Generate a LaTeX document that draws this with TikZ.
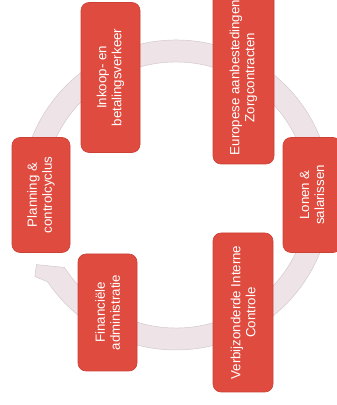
\documentclass[tikz,border=0pt]{standalone}
\usepackage{fontspec}
\setmainfont{Liberation Sans}
\usetikzlibrary{calc}
\definecolor{boxred}{HTML}{E04B40}
\definecolor{boxedge}{HTML}{CC4036}
\definecolor{ringfill}{HTML}{EEE4E8}
\definecolor{ringedge}{HTML}{D2C8CE}
\tikzset{
  stage/.style={draw=boxedge, line width=0.6pt, fill=boxred, rounded corners=8pt,
    text=white, rotate=90, align=center, inner sep=2pt,
    font=\fontsize{13.3}{15}\selectfont},
}
\begin{document}
\begin{tikzpicture}[x=1pt,y=1pt]
\useasboundingbox (0,0) rectangle (337,405);
\clip (0,0) rectangle (337,405);
\coordinate (c) at (176,210);
% ring arrow (clockwise)
\fill[ringfill, draw=ringedge, line width=0.5pt]
  ($(c)+(190:155)$) arc[start angle=190, end angle=-146, radius=155]
  -- ($(c)+(-150:163)$) -- ($(c)+(-153.5:156)$) -- ($(c)+(-147:133)$)
  arc[start angle=-147, end angle=190, radius=133] -- cycle;
% stages (minimum width = vertical extent, minimum height = horizontal extent)
\node[stage, minimum width=150pt, minimum height=59pt] (inkoop) at (110.5,327.5) {Inkoop- en\\betalingsverkeer};
\node[stage, minimum width=173pt, minimum height=61pt] (europa) at (243.5,327.5) {Europese aanbestedingen\\Zorgcontracten};
\node[stage, minimum width=115pt, minimum height=58pt] (lonen) at (312,210) {Lonen \&\\salarissen};
\node[stage, minimum width=115pt, minimum height=58pt] (planning) at (41,210) {Planning \&\\controlcyclus};
\node[stage, minimum width=117pt, minimum height=59pt] (fin) at (107.5,92.5) {Financiële\\administratie};
\node[stage, minimum width=159pt, minimum height=60pt] (vic) at (243,92.5) {Verbijzonderde Interne\\Controle};
\end{tikzpicture}
\end{document}
